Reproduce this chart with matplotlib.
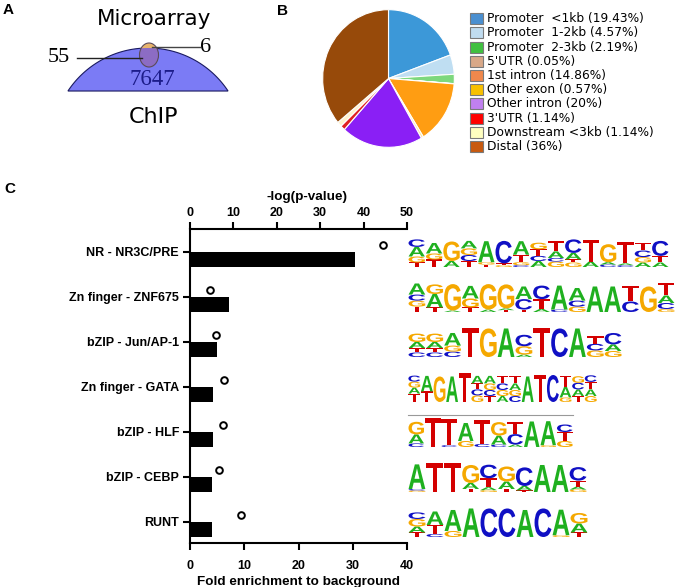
import numpy as np
import matplotlib
matplotlib.use('Agg')
import matplotlib.pyplot as plt
from matplotlib.patches import Polygon, Ellipse, Rectangle, PathPatch
from matplotlib.textpath import TextPath
from matplotlib.font_manager import FontProperties
import matplotlib.transforms as mtransforms

# ---------------- data ----------------
venn_chip_only = 7647
venn_overlap = 55
venn_array_only = 6
venn_set_labels = ['Microarray', 'ChIP']

pie_labels = ['Promoter  <1kb (19.43%)', 'Promoter  1-2kb (4.57%)', 'Promoter  2-3kb (2.19%)',
              "5'UTR (0.05%)", '1st intron (14.86%)', 'Other exon (0.57%)',
              'Other intron (20%)', "3'UTR (1.14%)", 'Downstream <3kb (1.14%)', 'Distal (36%)']
pie_values = [19.43, 4.57, 2.19, 0.05, 14.86, 0.57, 20, 1.14, 1.14, 36]
pie_colors = ['#3c98d8', '#bfdef2', '#7dd87d', '#e0b090', '#ff9d12', '#ffe6a0',
              '#8a1ff5', '#e02020', '#fff3cc', '#974a0a']
legend_colors = ['#4a8fd0', '#c0dcf0', '#40c040', '#d8a888', '#f0884c', '#f8c000',
                 '#c080f0', '#ff0000', '#ffffc0', '#c85a10']

motif_names = ['NR - NR3C/PRE', 'Zn finger - ZNF675', 'bZIP - Jun/AP-1', 'Zn finger - GATA',
               'bZIP - HLF', 'bZIP - CEBP', 'RUNT']
fold_enrichment = [30.5, 7.1, 5.0, 4.3, 4.2, 4.1, 4.0]
neg_log_p = [44.5, 4.6, 5.9, 7.8, 7.5, 6.6, 11.8]
fold_ticks = [0, 10, 20, 30, 40]
p_ticks = [0, 10, 20, 30, 40, 50]

# sequence logos: each position lists letters bottom->top with relative heights
logo_nr3c = ["T.15 G.2 A.32 C.25", "T.25 G.2 A.35", "A.2 G.65", "T.2 C.2 G.22 A.25",
             "T.08 G.08 A.7", "G.06 T.06 C.75", "C.06 G.1 T.25 A.45", "A.2 C.17 T.22 G.22",
             "G.18 C.12 A.22 T.35", "G.15 T.1 A.22 C.45", "A.18 T.72", "C.08 A.08 G.6",
             "C.06 A.06 T.72", "A.15 G.18 C.22 T.25", "A.15 T.22 C.5"]
logo_znf675 = ["T.18 G.2 C.2 A.37", "T.15 A.45 G.32", "A.05 G.88", "T.15 G.3 A.42",
               "A.08 G.85", "T.06 A.06 G.8", "T.08 C.35 A.42", "A.1 T.33 C.45", "C.08 A.8",
               "G.18 C.2 A.42", "A.85", "A.85", "C.35 T.52", "G.85", "G.1 C.2 A.25 T.42"]
logo_jun = ["C.15 T.15 A.2 G.28", "C.15 T.15 A.2 G.28", "C.18 G.2 A.42", "T.95", "G.95",
            "A.95", "A.08 G.28 C.38", "T.95", "C.95", "A.95", "G.22 C.22 T.25",
            "G.2 A.22 C.38"]
logo_gata = ["T.28 A.2 G.2 C.2", "T.35 A.52", "G.85", "A.85", "T.95", "G.22 C.2 T.2 A.25",
             "T.2 C.2 G.22 A.25", "A.2 G.2 C.22 T.25", "C.2 G.2 A.22 T.25", "A.85", "T.9",
             "C.9", "G.15 A.35 T.38", "T.2 A.22 C.22 G.22", "G.2 A.22 T.25 C.22"]
logo_hlf = ["C.12 A.3 G.42", "T.95", "C.06 T.88", "G.2 A.6", "C.1 T.8", "C.08 A.3 G.45",
            "A.08 C.35 T.4", "A.85", "G.06 A.8", "G.2 T.3 C.25"]
logo_cebp = ["G.05 C.05 A.82", "T.95", "T.95", "T.1 A.2 G.6", "G.06 A.1 T.3 C.45",
             "T.1 A.25 G.5", "T.05 A.15 C.62", "A.9", "A.9", "G.08 A.1 T.2 C.45"]
logo_runt = ["T.15 A.2 G.25 C.22", "C.1 T.3 A.45", "G.2 A.7", "A.95", "C.95", "C.95",
             "A.9", "C.95", "G.06 A.85", "T.15 A.3 G.35"]
logos = [logo_nr3c, logo_znf675, logo_jun, logo_gata, logo_hlf, logo_cebp, logo_runt]
logo_widths = [261, 267, 214, 189, 165, 179, 180]   # layout (px)
base_colors = {'A': '#1fb01f', 'C': '#1010c4', 'G': '#f5a800', 'T': '#d40000'}

# ---------------- figure ----------------
W, H = 675, 587
fig = plt.figure(figsize=(W / 100, H / 100), dpi=100)

def box(l, t, r, b):
    return [l / W, 1 - b / H, (r - l) / W, (b - t) / H]

bold = dict(family=['Liberation Sans', 'DejaVu Sans'], weight='bold')

# --- panel C bar chart ---
ax = fig.add_axes(box(190, 229, 407, 543))
y = np.arange(len(motif_names))
ax.barh(y, fold_enrichment, height=0.33, align='edge', color='black')
ax.set_xlim(0, 40)
ax.set_ylim(6.467, -0.511)
ax.set_yticks(y)
ax.set_yticklabels(motif_names)
ax.set_xticks(fold_ticks)
for s in ['top', 'right']:
    ax.spines[s].set_visible(False)
for s in ['left', 'bottom']:
    ax.spines[s].set_linewidth(1.5)
ax.tick_params(axis='both', width=1.5, length=5, direction='out', labelsize=9)
ax.tick_params(axis='x', pad=7)
ax.tick_params(axis='y', pad=3)
for lbl in ax.get_xticklabels() + ax.get_yticklabels():
    lbl.set_fontweight('bold')
    lbl.set_family(['Liberation Sans', 'DejaVu Sans'])
ax.set_xlabel('Fold enrichment to background', fontsize=9.7, labelpad=3, **bold)

ax2 = ax.twiny()
ax2.plot(neg_log_p, y - 0.16, 'o', mfc='white', mec='black', ms=4.8, mew=1.4, clip_on=False)
ax2.set_xlim(0, 50)
ax2.set_xticks(p_ticks)
for s in ['bottom', 'left', 'right']:
    ax2.spines[s].set_visible(False)
ax2.spines['top'].set_linewidth(1.5)
ax2.tick_params(axis='x', width=1.5, length=5, direction='out', labelsize=9, pad=2)
for lbl in ax2.get_xticklabels():
    lbl.set_fontweight('bold')
    lbl.set_family(['Liberation Sans', 'DejaVu Sans'])
ax2.set_xlabel('-log(p-value)', fontsize=9.7, **bold)
ax2.xaxis.set_label_coords((307 - 190) / 217, (543 - 197) / 314)
ax2.xaxis.label.set_va('center')

# --- panel B pie ---
pa = fig.add_axes(box(322, 9, 455, 148))
pa.pie(pie_values, colors=pie_colors, startangle=90, counterclock=False,
       wedgeprops=dict(edgecolor='white', linewidth=0.8))
pa.set_aspect('auto')
pa.set_xlim(-1.01, 1.01)
pa.set_ylim(-1.01, 1.01)

# --- overlay in pixel coordinates ---
ov = fig.add_axes([0, 0, 1, 1])
ov.set_xlim(0, W)
ov.set_ylim(H, 0)
ov.axis('off')

# panel letters
ov.text(3, 14, 'A', fontsize=11, va='baseline', **bold)
ov.text(277, 15, 'B', fontsize=11, va='baseline', **bold)
ov.text(4, 193, 'C', fontsize=11, va='baseline', **bold)

# panel A diagram
th = np.linspace(np.deg2rad(33.5), np.deg2rad(146.5), 120)
seg = Polygon(np.column_stack([148 + 96 * np.cos(th), 144 - 96 * np.sin(th)]), closed=True,
              facecolor='#7b7bf5', edgecolor='#1a1a60', linewidth=0.8)
ov.add_patch(seg)
ov.add_patch(Ellipse((149, 55), 19, 24, facecolor='#e8b46c', edgecolor='none'))
ov_e = Ellipse((149, 55), 19, 24, facecolor='#8c6cc4', edgecolor='none')
ov.add_patch(ov_e)
ov_e.set_clip_path(seg)
ov.add_patch(Ellipse((149, 55), 19, 24, fill=False, edgecolor='#5a4a5a', linewidth=0.8))
serif = ['Liberation Serif', 'DejaVu Serif']
ov.plot([77, 142], [58, 58], color='#222222', lw=1)
ov.plot([152, 200], [47, 47], color='#444444', lw=1)
ov.text(70, 62, str(venn_overlap), ha='right', va='baseline', fontsize=16, family=serif)
ov.text(200, 52, str(venn_array_only), ha='left', va='baseline', fontsize=16, family=serif)
ov.text(152, 85, str(venn_chip_only), ha='center', va='baseline', fontsize=16.5,
        family=serif, color='#1c1c8a')
ov.text(154, 25, venn_set_labels[0], ha='center', va='baseline', fontsize=15.5,
        family='DejaVu Sans')
ov.text(153, 123, venn_set_labels[1], ha='center', va='baseline', fontsize=16,
        family='DejaVu Sans')

# panel B legend
for i, (lab, col) in enumerate(zip(pie_labels, legend_colors)):
    yc = 18.7 + 14.2 * i
    ov.add_patch(Rectangle((470, yc - 5.5), 13, 11, facecolor=col, edgecolor='#7a7a7a', lw=0.8))
    ov.text(487, yc, lab, va='center', ha='left', fontsize=8.8, family='DejaVu Sans')

# sequence logos
lfp = FontProperties(family='Liberation Sans', weight='bold')
glyphs = {}
for ch in 'ACGT':
    tp = TextPath((0, 0), ch, size=1, prop=lfp)
    glyphs[ch] = (tp, tp.get_extents())

fig.canvas.draw()
col_h = 30
for k, (logo, wtot) in enumerate(zip(logos, logo_widths)):
    disp = ax.transData.transform((0, k))
    ytick = H - disp[1]
    base = ytick + 15
    pw = wtot / len(logo)
    if motif_names[k] == 'bZIP - HLF':
        ov.plot([408, 408 + wtot], [base - col_h - 2, base - col_h - 2], color='#999999', lw=0.8)
    for p, spec in enumerate(logo):
        x = 408 + p * pw
        yb = base
        for tok in spec.split():
            ch, h = tok[0], float(tok[1:]) * col_h
            tp, bb = glyphs[ch]
            tr = (mtransforms.Affine2D().translate(-bb.x0, -bb.y0)
                  .scale(pw * 0.94 / bb.width, -h / bb.height).translate(x + pw * 0.03, yb))
            path = tr.transform_path(tp)
            ov.add_patch(PathPatch(path, facecolor=base_colors[ch], edgecolor='none', lw=0))
            yb -= h

fig.savefig('out.png', dpi=100)
